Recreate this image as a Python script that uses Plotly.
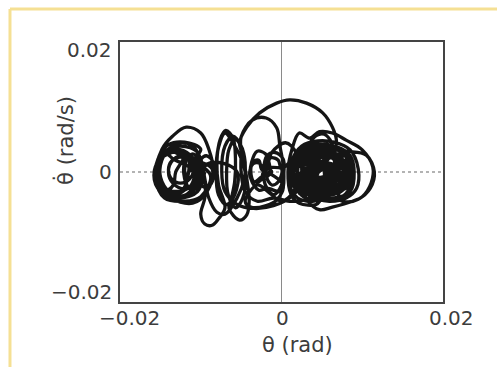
import plotly.graph_objects as go

# Phase-portrait trajectory, values in milliradians
left_theta = [-9.5, -10.4, -12.5, -14.6, -15.5, -14.6, -12.5, -10.4,
              -10.6, -11.3, -13, -14.7, -15.4, -14.7, -13, -11.3,
              -10, -10.6, -12, -13.4, -14, -13.4, -12, -10.6,
              -8.6, -9.2, -11, -14, -15.5, -14.8, -13.5, -11.8, -10, -9,
              -8.4, -8.7, -9.4, -10.1, -10.3, -10, -9.3, -8.6,
              -11.5, -12, -13.8, -15.2, -15.5, -15, -14, -12.2,
              -8.8, -10, -12, -14.5, -15.6, -15.3, -14, -12, -10,
              -11, -10.8, -11.4, -12, -12, -11.5,
              -11.5, -12.1, -13.5, -14.9, -15.5, -14.9, -13.5, -12.1,
              -13.1, -13.4, -14.3, -15.2, -15.5, -15.2, -14.3, -13.4,
              -11, -11.4, -12.5, -13.6, -14, -13.6, -12.5, -11.4,
              -10, -10.3, -11, -11.7, -12, -11.7, -11, -10.3,
              -10.2, -11, -13, -15, -15.8, -15, -13, -11]
left_thetadot = [0, -3, -4, -3, 0, 3, 4, 3,
                 0.3, -2.2, -3, -2.2, 0.3, 2.6, 3.5, 2.6,
                 0, -1.8, -2.6, -1.8, 0, 1.9, 2.6, 1.8,
                 0.5, -3, -4.8, -3.8, -0.5, 3.5, 5.5, 6.9, 6, 3.5,
                 0, -1.8, -2.4, -1.6, 0.2, 1.9, 2.5, 1.7,
                 0, -2.8, -3.4, -2, 0.5, 2.6, 3.3, 2.4,
                 -0.5, -3.8, -4.5, -4, -1, 2, 4.2, 4.6, 3.5,
                 1.5, -1.5, -2.5, -1, 1.5, 2.5,
                 0, -2.5, -3.5, -2.5, 0, 2.5, 3.5, 2.5,
                 0, -2, -2.8, -2, 0, 2, 2.8, 2,
                 0.3, -1.1, -1.7, -1.1, 0.3, 1.7, 2.3, 1.7,
                 0, -2, -2.8, -2, 0, 2, 2.8, 2,
                 -0.5, -3, -4.1, -3, -0.5, 2, 3.1, 2]

mid_theta = [-10.5, -9.5, -9.5, -10, -9.5, -8.6, -7.8, -7, -7.8, -8, -7.6, -6.9,
             -6, -5.7, -5.8, -6.2, -6.5, -5.2, -4.3, -4, -4.3, -4.8, -5.2,
             -4.3, -2.7, -0.6, 1, 3.1, 5.1, 6.3, 6.8, 6.6, 6.5, 6, 4.8]
mid_thetadot = [1.5, -1.5, -4, -6.5, -8, -8.2, -7.2, -5.5, -2, 1.5, 5, 6.4,
                5.2, 2, -1.5, -4, -5.6, -7.4, -6.6, -4.5, -1, 2.5, 4.5,
                6.9, 9.1, 10.6, 11.1, 10.6, 9.1, 6.9, 4.9, 2.9, 0, -2.5, -3.5]

right_theta = [3.5, 2.2, 2.2, 3.5, 5.5, 7.3, 8, 7.5, 5.5,
               3.5, 2.8, 3.3, 5, 6.6, 7, 6.5, 5,
               3.8, 3.8, 4.6, 5.6, 6, 5.6, 4.6,
               2.5, 1.5, 1.7, 3, 5, 7, 8.5, 9, 8.5, 6.5, 4.5,
               3, 1.8, 1.2, 2, 4, 6.5, 8, 8.5, 8.8, 7.5, 5,
               4.3, 2.2, 1.2, 0.8, 1.3, 2.2, 3.5, 4.7, 6.3, 8, 10, 11.3, 11.1, 10, 8.8, 6.3, 4.7,
               3.3, 2.5, 2.6, 3.3, 4.3, 5.3, 6.2, 6.6, 6.3, 5.3,
               4, 2, 1, 1.2, 2.5, 4.5, 6.5, 8.5, 9.5, 9.3, 8, 6,
               4.5, 3, 2, 2.5, 4, 6, 8, 10.5, 11.5, 11, 9.5, 8, 7]
right_thetadot = [-3, -1.5, 1.5, 3, 3.3, 2.3, 0, -2.5, -3.3,
                  -2.2, 0, 2, 2.6, 1.8, 0, -2, -2.6,
                  -1, 0.8, 1.6, 1.3, 0.2, -1.4, -1.8,
                  -3.5, -1, 2, 3.8, 4, 3.8, 2.5, 0, -3, -4, -3.8,
                  -4, -2.5, 0, 2.8, 4.2, 4, 2.8, 1, -1.5, -3.8, -4.2,
                  -5, -4.8, -3.5, 0, 3.5, 6, 5.2, 6.2, 6, 4.9, 3.4, 0.8, -1.7, -3.8, -4.5, -5.4, -5.8,
                  -4.5, -2, 1, 4, 5.6, 5.8, 4.5, 1.5, -1.5, -3.5,
                  -4.5, -4, -2, 1.5, 4, 4.8, 4.6, 3.4, 0.5, -2.5, -4, -4.5,
                  -4.2, -3.2, -0.5, 2.5, 3.5, 3.6, 3.2, 2.6, 0, -2.5, -4.2, -4.6, -4]

dense_theta = [9, 7.8, 5, 2.2, 1, 2.2, 5, 7.8,
               7.8, 6.8, 4.5, 2.2, 1.2, 2.2, 4.5, 6.8,
               8.5, 7.6, 5.5, 3.4, 2.5, 3.4, 5.5, 7.6,
               6.5, 5.8, 4, 2.2, 1.5, 2.2, 4, 5.8,
               8.6, 7.8, 6, 4.2, 3.4, 4.2, 6, 7.8,
               7, 6.4, 5, 3.6, 3, 3.6, 5, 6.4,
               4.6, 4.1, 3, 1.9, 1.4, 1.9, 3, 4.1,
               8.7, 8.2, 7, 5.8, 5.3, 5.8, 7, 8.2,
               6, 5.7, 5, 4.3, 4, 4.3, 5, 5.7,
               8, 7, 4.5, 2, 1, 2, 4.5, 7,
               8.5, 7.5, 5, 2.5, 1.5, 2.5, 5, 7.5,
               6.8, 6, 4, 2, 1.2, 2, 4, 6,
               8.7, 8.1, 6.5, 4.9, 4.3, 4.9, 6.5, 8.1,
               8.8, 7.7, 5, 2.3, 1.2, 2.3, 5, 7.7,
               5.6, 5.4, 5, 4.6, 4.4, 4.6, 5, 5.4,
               4.5, 4.2, 3.5, 2.8, 2.5, 2.8, 3.5, 4.2,
               7.9, 7.6, 6.8, 6, 5.7, 6, 6.8, 7.6,
               3.2, 2.9, 2.3, 1.7, 1.4, 1.7, 2.3, 2.9,
               8.6, 8.4, 7.8, 7.2, 7, 7.2, 7.8, 8.4]
dense_thetadot = [0.2, -2.4, -3.4, -2.4, 0.2, 2.8, 3.8, 2.8,
                  -0.3, -2.4, -3.3, -2.4, -0.3, 1.8, 2.7, 1.8,
                  0, -1.6, -2.2, -1.6, 0, 1.6, 2.2, 1.6,
                  0.5, -1.5, -2.3, -1.5, 0.5, 2.5, 3.3, 2.5,
                  -0.5, -2.6, -3.5, -2.6, -0.5, 1.6, 2.5, 1.6,
                  0, -1.1, -1.5, -1.1, 0, 1.1, 1.5, 1.1,
                  0, -1.8, -2.5, -1.8, 0, 1.8, 2.5, 1.8,
                  0, -2, -2.8, -2, 0, 2, 2.8, 2,
                  0, -0.6, -0.9, -0.6, 0, 0.6, 0.9, 0.6,
                  -1, -2.8, -3.6, -2.8, -1, 0.8, 1.6, 0.8,
                  1.2, -0.5, -1.2, -0.5, 1.2, 2.9, 3.6, 2.9,
                  0, -2.3, -3.2, -2.3, 0, 2.3, 3.2, 2.3,
                  0.3, -2, -3, -2, 0.3, 2.6, 3.6, 2.6,
                  0, -0.9, -1.2, -0.9, 0, 0.9, 1.2, 0.9,
                  0, -2.3, -3.2, -2.3, 0, 2.3, 3.2, 2.3,
                  0.5, -0.8, -1.3, -0.8, 0.5, 1.8, 2.3, 1.8,
                  -0.5, -1.6, -2.1, -1.6, -0.5, 0.6, 1.1, 0.6,
                  0, -2.1, -3, -2.1, 0, 2.1, 3, 2.1,
                  0.2, -1.8, -2.6, -1.8, 0.2, 2.2, 3, 2.2]

back_theta = [5, 3, 1, -1, -3, -4.5, -5, -5, -5, -3.6, -1.9, -0.6, -0.2, 0.2, 0, -1, -2,
              -2.2, -1.8, -0.8, 0.2, 0.3, 0,
              -1.8, -2.8, -3.8, -3.7, -3, -2, -1.5, -1.5,
              -2.5, -3.4, -3.8, -3.5, -2.8, -2.5,
              -2, -1.2, 0.5, 1.8, 2, 1.5, 0, -1.5,
              -3, -4.5, -3.8, -2, -0.5, 0.2,
              -2.2, -2.5, -3.1, -3.8, -3.9, -3.5, -2.8, -2.3,
              0, -0.4, -1.2, -1.8, -1.2, -1.9, -1.3, -0.4]
back_thetadot = [-3.8, -4.3, -4.5, -4, -4.5, -3, 0, 3, 5.4, 8, 8.3, 6.8, 4, 1, -2, -3.5, -2,
                 0.5, 2.5, 3, 2, 0, -3,
                 -2.5, -2.8, -1, 1.5, 3.2, 2.8, 1.2, 0,
                 -0.8, -1.5, 0, 1.6, 1.8, 0.5,
                 0, 3, 4.5, 3, 0, -3, -4.5, -3.2,
                 -2, -4.5, -5.4, -5.2, -4.2, -2,
                 0, -1.2, -1.6, -1, 0.3, 1.3, 1.4, 0.8,
                 0.5, -1.5, -2, -0.8, 0, 1, 2.2, 1.8]

core_theta = [0, 1.5, 3.5, 6, 7.8, 8, 6.5, 4, 2, 1.5, 2.5, 4.5, 6.5, 6.8, 5.3, 3, 2.4,
              3.5, 5, 5.8, 5, 3.8, 4.2]
core_thetadot = [0.5, 2, 2.8, 2.8, 1.5, -1, -2.8, -3, -2, 0, 1.2, 1.5, 1, -0.8, -1.8, -1.5, -0.2,
                 0.6, 0.8, 0, -0.8, -0.6, 0.2]

return_theta = [3, 1.5, -1, -3.5, -5.5, -7, -7.4, -7, -6, -5,
                -4.5, -4.6, -5.5, -7, -8, -9, -9.5, -10, -11, -12.5,
                -14, -15, -14.8, -13.5, -12, -10.8, -10.5,
                -8, -5.5, -5.8, -6.8, -7.8, -8.1, -7.8, -7, -6,
                -4.5, -4.8, -5.7, -6.6, -6.8, -6.5, -5.7, -4.8]
return_thetadot = [-1, -3.5, -5.2, -5.6, -5, -3, 0, 4, 5.5, 4,
                   1.5, -1, -4, -6.5, -6.2, -4, -1, 2, 4, 4.5,
                   3.5, 1, -1.5, -3.4, -3.6, -2, 0,
                   1.5, 0, -3.5, -5, -3.5, 0, 3.8, 6, 4.5,
                   0, -4, -5.5, -3.5, 0, 3.5, 5, 3.5]

x_ticks = [-0.02, 0, 0.02]
x_ticktext = ["\u22120.02", "0", "0.02"]
y_ticks = [-0.02, 0, 0.02]
y_ticktext = ["\u22120.02", "0", "0.02"]

pairs = [(left_theta, left_thetadot), (mid_theta, mid_thetadot),
         (right_theta, right_thetadot), (dense_theta, dense_thetadot),
         (back_theta, back_thetadot),
         (core_theta, core_thetadot), (return_theta, return_thetadot)]
theta, thetadot = [], []
for a, b in pairs:
    if len(a) != len(b):
        raise ValueError(f"length mismatch {len(a)} {len(b)}")
    theta += [v / 1000 for v in a]
    thetadot += [v / 1000 for v in b]

fig = go.Figure()
fig.add_trace(go.Scatter(x=theta, y=thetadot, mode="lines",
                         line=dict(color="#151515", width=3.3, shape="spline", smoothing=1.0),
                         hoverinfo="skip", showlegend=False))

font_family = "DejaVu Sans, Liberation Sans, Arial, sans-serif"
text_color = "#3c3c3c"
axis_common = dict(range=[-0.02, 0.02], showgrid=False, zeroline=False,
                   showline=True, mirror=True, linecolor="#444", linewidth=1.8,
                   ticks="", showticklabels=False)
fig.update_xaxes(tickvals=x_ticks, **axis_common)
fig.update_yaxes(tickvals=y_ticks, **axis_common)

shapes = [
    dict(type="line", xref="x", yref="y", x0=0, x1=0, y0=-0.02, y1=0.02,
         line=dict(color="#8a8a8a", width=1), layer="below"),
    dict(type="line", xref="x", yref="y", x0=-0.02, x1=0.02, y0=0, y1=0,
         line=dict(color="#9a9a9a", width=1.5, dash="dot"), layer="below"),
    # pale yellow frame (top and left)
    dict(type="line", xref="paper", yref="paper", x0=-0.3406, x1=1.2, y0=1.127, y1=1.127,
         line=dict(color="#f5e094", width=3)),
    dict(type="line", xref="paper", yref="paper", x0=-0.3406, x1=-0.3406, y0=1.127, y1=-0.3,
         line=dict(color="#f5e094", width=3)),
]

tick_font = dict(family=font_family, size=20, color=text_color)
annotations = []
x_shifts = [9, 1, 8]
for v, t, s in zip(x_ticks, x_ticktext, x_shifts):
    annotations.append(dict(text=t, xref="x", yref="paper", x=v, y=0, xshift=s, yshift=-16,
                            showarrow=False, font=tick_font, xanchor="center", yanchor="middle"))
y_shifts = [10, 0, -8]
for v, t, s in zip(y_ticks, y_ticktext, y_shifts):
    annotations.append(dict(text=t, xref="paper", yref="y", x=0, y=v, xshift=-6, yshift=s,
                            showarrow=False, font=tick_font, xanchor="right", yanchor="middle"))

annotations += [
    dict(text="\u03b8 (rad)", xref="paper", yref="paper", x=0.548, y=-0.165,
         showarrow=False, font=dict(family=font_family, size=21, color=text_color),
         xanchor="center", yanchor="middle"),
    dict(text="\u03b8\u0307 (rad/s)", xref="paper", yref="paper", x=-0.17, y=0.62,
         showarrow=False, textangle=-90, font=dict(family=font_family, size=21, color=text_color),
         xanchor="center", yanchor="middle"),
]

fig.update_layout(width=497, height=367, margin=dict(l=120, r=54, t=42, b=65),
                  paper_bgcolor="white", plot_bgcolor="white",
                  shapes=shapes, annotations=annotations)

fig.write_html("out.html")
